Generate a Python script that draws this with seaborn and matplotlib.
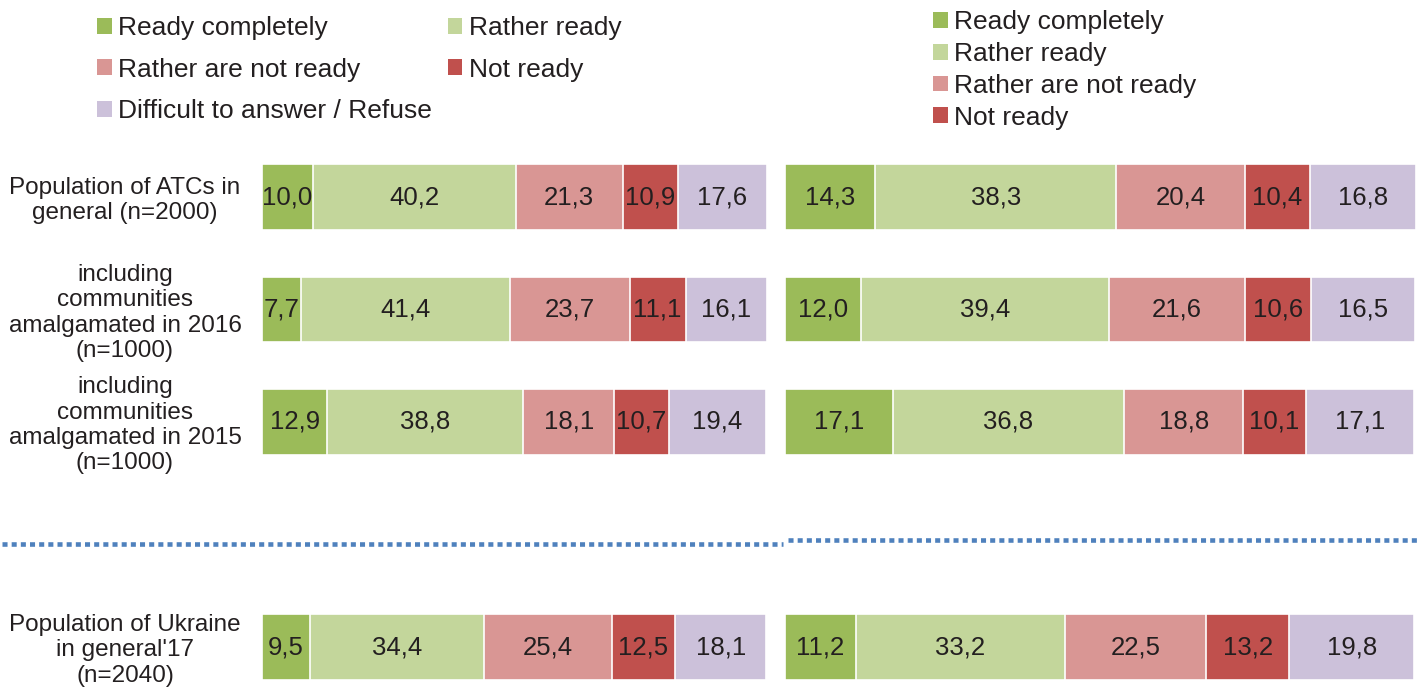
import pandas as pd
import numpy as np
import seaborn as sns
import matplotlib.pyplot as plt
from matplotlib.patches import Patch
from matplotlib.lines import Line2D
from matplotlib.transforms import blended_transform_factory

# Data
rows = ["atc", "y2016", "y2015", "gap", "ukr"]
row_labels = [
    "Population of ATCs in\ngeneral (n=2000)",
    "including\ncommunities\namalgamated in 2016\n(n=1000)",
    "including\ncommunities\namalgamated in 2015\n(n=1000)",
    "",
    "Population of Ukraine\nin general'17\n(n=2040)",
]
answers = ["Ready completely", "Rather ready", "Rather are not ready", "Not ready",
           "Difficult to answer / Refuse"]
colors = ["#9BBB59", "#C3D69B", "#D99694", "#C0504D", "#CCC1DA"]

left_ready_completely = [10.0, 7.7, 12.9, 9.5]
left_rather_ready = [40.2, 41.4, 38.8, 34.4]
left_rather_not = [21.3, 23.7, 18.1, 25.4]
left_not_ready = [10.9, 11.1, 10.7, 12.5]
left_difficult = [17.6, 16.1, 19.4, 18.1]

right_ready_completely = [14.3, 12.0, 17.1, 11.2]
right_rather_ready = [38.3, 39.4, 36.8, 33.2]
right_rather_not = [20.4, 21.6, 18.8, 22.5]
right_not_ready = [10.4, 10.6, 10.1, 13.2]
right_difficult = [16.8, 16.5, 17.1, 19.8]

data_rows = ["atc", "y2016", "y2015", "ukr"]
left_vals = [left_ready_completely, left_rather_ready, left_rather_not,
             left_not_ready, left_difficult]
right_vals = [right_ready_completely, right_rather_ready, right_rather_not,
              right_not_ready, right_difficult]

sns.set_style("white")
plt.rcParams["font.family"] = ["Liberation Sans", "DejaVu Sans"]
txt_color = "#231F20"

W, H = 1419, 688
fig = plt.figure(figsize=(W / 100, H / 100), dpi=100)

# y mapping: row centers at 197 px and 647 px (rows 0 and 4)
px_per_row = (647 - 197) / 4
ax_top_px = 140
y_top = 0 - (197 - ax_top_px) / px_per_row
y_bot = 4 + (H - 647) / px_per_row


def draw_panel(ax, vals, xmax):
    df = pd.DataFrame({"row": data_rows})
    cum = np.cumsum(np.array(vals), axis=0)
    # stacked look: draw cumulative totals from the widest to the narrowest
    for k in range(len(vals) - 1, -1, -1):
        df["cum"] = cum[k]
        sns.barplot(data=df, x="cum", y="row", order=rows, orient="h",
                    color=colors[k], saturation=1, width=0.58,
                    edgecolor="white", linewidth=1.2, ax=ax)
    for k in range(len(vals)):
        for i, r in enumerate(data_rows):
            v = vals[k][i]
            mid = cum[k][i] - v / 2
            ax.text(mid, rows.index(r), f"{v:.1f}".replace(".", ","),
                    ha="center", va="center", fontsize=18.5, color=txt_color)
    ax.set_xlim(0, xmax)
    ax.set_ylim(y_bot, y_top)
    ax.axis("off")


ax_l = fig.add_axes([262 / W, 0, 505 / W, (H - ax_top_px) / H])
ax_r = fig.add_axes([785 / W, 0, 631 / W, (H - ax_top_px) / H])
draw_panel(ax_l, left_vals, 100.0)
draw_panel(ax_r, right_vals, 100.2)

# row labels
tr = blended_transform_factory(fig.transFigure, ax_l.transData)
for i, lab in enumerate(row_labels):
    if lab:
        ax_l.text(125 / W, i + 0.03, lab, transform=tr, ha="center", va="center",
                  fontsize=17.5, color=txt_color, linespacing=1.2)

# dotted separator
sep_style = dict(color="#4F81BD", linewidth=3.3, linestyle=(0, (1.1, 0.9)),
                 dash_capstyle="butt")
fig.add_artist(Line2D([2 / W, 783 / W], [1 - 544 / H, 1 - 544 / H],
                      transform=fig.transFigure, **sep_style))
fig.add_artist(Line2D([788 / W, 1], [1 - 540 / H, 1 - 540 / H],
                      transform=fig.transFigure, **sep_style))

# legends
handles = [Patch(facecolor=c, edgecolor="none") for c in colors]
order_l = [0, 2, 4, 1, 3]
fig.legend([handles[i] for i in order_l], [answers[i] for i in order_l],
           loc="upper left", bbox_to_anchor=(97 / W, 1 - 16 / H), ncol=2,
           frameon=False, fontsize=19, handlelength=0.55, handleheight=0.55,
           handletextpad=0.25, labelspacing=0.67, columnspacing=0.6,
           borderpad=0, borderaxespad=0, labelcolor=txt_color)
fig.legend(handles[:4], answers[:4], loc="upper left",
           bbox_to_anchor=(933 / W, 1 - 10 / H), ncol=1, frameon=False,
           fontsize=19, handlelength=0.55, handleheight=0.55,
           handletextpad=0.25, labelspacing=0.3, borderpad=0,
           borderaxespad=0, labelcolor=txt_color)

fig.savefig("out.png", dpi=100)
